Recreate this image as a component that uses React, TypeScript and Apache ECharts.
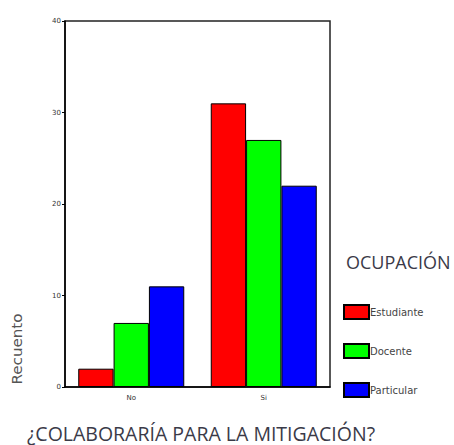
import React, { useEffect, useRef } from "react";
import * as echarts from "echarts";

const categories = ["No", "Si"];
const estudiante = [2, 31];
const docente = [7, 27];
const particular = [11, 22];
const seriesNames = ["Estudiante", "Docente", "Particular"];
const yTicks = { min: 0, max: 40, interval: 10 };

export default function App() {
  const ref = useRef<HTMLDivElement>(null);
  useEffect(() => {
    const chart = echarts.init(ref.current!, null, { renderer: "svg" });
    const mk = (name: string, data: number[], color: string) => ({
      name,
      type: "bar",
      data,
      barGap: "0%",
      barCategoryGap: "20%",
      itemStyle: { color, borderColor: "#000", borderWidth: 1 },
    });
    chart.setOption({
      animation: false,
      backgroundColor: "#fff",
      grid: { left: 65, top: 21, right: 124, bottom: 58, show: true, borderColor: "#222", borderWidth: 1.5, backgroundColor: "transparent" },
      xAxis: {
        type: "category",
        data: categories,
        axisLine: { lineStyle: { color: "#000", width: 1.5 } },
        axisTick: { alignWithLabel: true, length: 4, lineStyle: { color: "#000" } },
        axisLabel: { fontSize: 7, color: "#333", margin: 7, fontFamily: "DejaVu Sans" },
      },
      yAxis: {
        type: "value",
        min: yTicks.min,
        max: yTicks.max,
        interval: yTicks.interval,
        splitLine: { show: false },
        axisLine: { show: true, lineStyle: { color: "#000", width: 1.5 } },
        axisTick: { show: true, length: 3, lineStyle: { color: "#000" } },
        axisLabel: { fontSize: 7, color: "#333", margin: 4, fontFamily: "DejaVu Sans" },
      },
      legend: {
        orient: "vertical",
        left: 338,
        top: 299,
        itemWidth: 25,
        itemHeight: 14,
        itemGap: 23,
        icon: "rect",
        data: seriesNames,
        textStyle: { fontSize: 10, color: "#444", padding: [0, 0, 0, -4], fontFamily: "DejaVu Sans" },
      },
      graphic: [
        {
          type: "text",
          left: 346,
          top: 253,
          style: { text: "OCUPACIÓN", fontSize: 18, fill: "#3a3a48", fontFamily: "Open Sans" },
        },
        {
          type: "text",
          x: 17,
          y: 349,
          rotation: Math.PI / 2,
          scaleX: 1.08,
          style: { text: "Recuento", fontSize: 14, fill: "#555", fontFamily: "DejaVu Sans", align: "center", verticalAlign: "middle" },
        },
        {
          type: "text",
          x: 201,
          y: 433,
          style: { text: "¿COLABORARÍA PARA LA MITIGACIÓN?", fontSize: 19.5, lineHeight: 20, fill: "#3a3a48", fontFamily: "Open Sans", align: "center", verticalAlign: "middle" },
        },
      ],
      series: [
        mk(seriesNames[0], estudiante, "#ff0000"),
        mk(seriesNames[1], docente, "#00ff00"),
        mk(seriesNames[2], particular, "#0000ff"),
      ],
    });
    return () => chart.dispose();
  }, []);
  return <div ref={ref} style={{ width: 454, height: 445, position: "absolute", left: 0, top: 0 }} />;
}
